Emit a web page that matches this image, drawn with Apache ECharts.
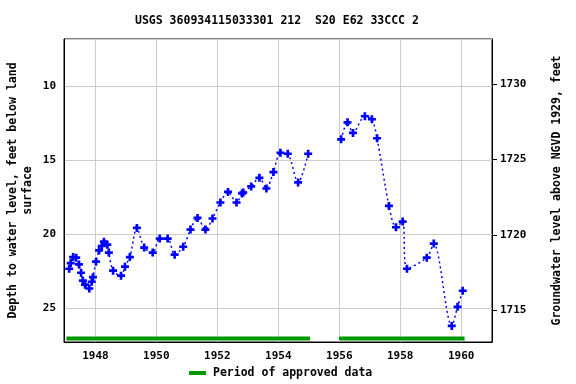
<!DOCTYPE html>
<html>
<head>
<meta charset="utf-8">
<script src="https://cdn.jsdelivr.net/npm/echarts@6/dist/echarts.min.js"></script>
<style>html,body{margin:0;padding:0;background:#fff}#c{width:576px;height:384px}</style>
</head>
<body>
<div id="c"></div>
<script>
// Measurement dates (decimal years) and depth to water level (feet below land surface)
const years = [1947.14,1947.19,1947.27,1947.37,1947.46,1947.53,1947.59,1947.66,1947.80,1947.88,
  1947.92,1948.02,1948.12,1948.21,1948.28,1948.39,1948.44,1948.58,1948.84,1948.97,
  1949.13,1949.36,1949.60,1949.88,1950.11,1950.37,1950.60,1950.88,1951.12,1951.35,
  1951.61,1951.84,1952.10,1952.35,1952.63,1952.81,1952.85,1953.11,1953.38,1953.61,
  1953.84,1954.07,1954.31,1954.65,1954.98,
  1955.50,
  1956.06,1956.27,1956.45,1956.84,1957.07,1957.24,1957.63,1957.86,1958.08,1958.22,
  1958.87,1959.10,1959.69,1959.88,1960.05];
const depths = [22.33,21.95,21.54,21.58,22.04,22.60,23.14,23.41,23.67,23.21,
  22.90,21.85,21.09,20.79,20.50,20.70,21.24,22.46,22.80,22.19,
  21.54,19.57,20.90,21.24,20.29,20.29,21.38,20.84,19.68,18.89,
  19.68,18.93,17.85,17.13,17.85,17.24,17.17,16.76,16.18,16.90,
  15.79,14.48,14.55,16.49,14.55,
  null,
  13.57,12.42,13.14,12.01,12.21,13.50,18.08,19.52,19.14,22.33,
  21.58,20.63,26.20,24.91,23.82];
// Periods of approved data
const approvedStart = [1947.05, 1955.99];
const approvedEnd = [1955.04, 1960.11];
const approvedLevel = 27.06;
// Tick labels
const xTicks = [1948,1950,1952,1954,1956,1958,1960];
const depthTicks = [10,15,20,25];
const elevTicks = [1715,1720,1725,1730];

const FONT = 'DejaVu Sans Mono';
const levelData = years.map((y,i)=> depths[i]==null ? [y,'-'] : [y, depths[i]]);
const approvedData = [];
approvedStart.forEach((s,i)=>{
  if (i>0) approvedData.push([ (approvedEnd[i-1]+s)/2, '-']);
  approvedData.push([s, approvedLevel]);
  approvedData.push([approvedEnd[i], approvedLevel]);
});

const chart = echarts.init(document.getElementById('c'), null, {renderer:'canvas'});
const lbl = {fontFamily: FONT, fontWeight:'bold', fontSize: 11, color:'#000'};
chart.setOption({
  animation:false,
  backgroundColor:'#fff',
  title:{
    text:'USGS 360934115033301 212  S20 E62 33CCC 2',
    left:135, top:15, padding:0,
    textStyle:{fontFamily:FONT, fontWeight:'bold', fontSize:11.5, color:'#000'}
  },
  grid:{left:64, right:84, top:39, bottom:42, containLabel:false, outerBoundsMode:'none',
    show:true, borderColor:'#000', borderWidth:1, backgroundColor:'transparent'},
  legend:{
    left:189, top:367, padding:0, itemWidth:17, itemHeight:4, itemGap:10,
    data:[{name:'Period of approved data', icon:'rect'}],
    textStyle:{fontFamily:FONT, fontWeight:'bold', fontSize:11.5, color:'#000', padding:[0,0,0,2]}
  },
  xAxis:{
    type:'value', min:1946.97, max:1961.01, splitNumber:7, minInterval:2, maxInterval:2,
    axisLine:{show:true, lineStyle:{color:'#000'}},
    axisTick:{show:false},
    splitLine:{show:true, lineStyle:{color:'#cccccc', width:1}},
    axisLabel:Object.assign({margin:9, showMinLabel:false, showMaxLabel:false,
      formatter:v=> xTicks.indexOf(Math.round(v))>=0 && Math.abs(v-Math.round(v))<1e-6 ? String(Math.round(v)) : ''}, lbl)
  },
  yAxis:[{
    type:'value', inverse:true, min:6.78, max:27.29, splitNumber:4, minInterval:5, maxInterval:5,
    name:'Depth to water level, feet below land\nsurface', nameLocation:'middle', nameGap:28, nameRotate:90,
    nameMoveOverlap:false,
    nameTextStyle:{fontFamily:FONT, fontWeight:'bold', fontSize:11.5, color:'#000', lineHeight:15},
    axisLine:{show:true, lineStyle:{color:'#000'}},
    axisTick:{show:false},
    splitLine:{show:true, lineStyle:{color:'#cccccc', width:1}},
    axisLabel:Object.assign({margin:8, showMinLabel:false, showMaxLabel:false,
      formatter:v=> depthTicks.indexOf(Math.round(v))>=0 && Math.abs(v-Math.round(v))<1e-6 ? String(Math.round(v)) : ''}, lbl)
  },{
    type:'value', position:'right', min:1712.92, max:1732.99, splitNumber:4, minInterval:5, maxInterval:5,
    name:'Groundwater level above NGVD 1929, feet', nameLocation:'middle', nameGap:59, nameRotate:90,
    nameMoveOverlap:false,
    nameTextStyle:{fontFamily:FONT, fontWeight:'bold', fontSize:11.5, color:'#000'},
    axisLine:{show:true, lineStyle:{color:'#000'}},
    axisTick:{show:true, inside:false, length:5, lineStyle:{color:'#000'}},
    splitLine:{show:false},
    axisLabel:Object.assign({margin:8, showMinLabel:false, showMaxLabel:false,
      formatter:v=> elevTicks.indexOf(Math.round(v))>=0 && Math.abs(v-Math.round(v))<1e-6 ? String(Math.round(v)) : ''}, lbl)
  }],
  series:[{
    name:'Water level', type:'line', yAxisIndex:0, data:levelData,
    connectNulls:false, smooth:0.3,
    symbol:'path://M2,0 L4,0 L4,2 L6,2 L6,4 L4,4 L4,6 L2,6 L2,4 L0,4 L0,2 L2,2 Z',
    symbolSize:8,
    itemStyle:{color:'#0000ff'},
    lineStyle:{color:'#0000ff', width:1.5, type:[2,3]}
  },{
    name:'Period of approved data', type:'line', yAxisIndex:0, data:approvedData,
    connectNulls:false, symbol:'none',
    itemStyle:{color:'#009900'},
    lineStyle:{color:'#009900', width:4}
  }]
});
</script>
</body>
</html>
